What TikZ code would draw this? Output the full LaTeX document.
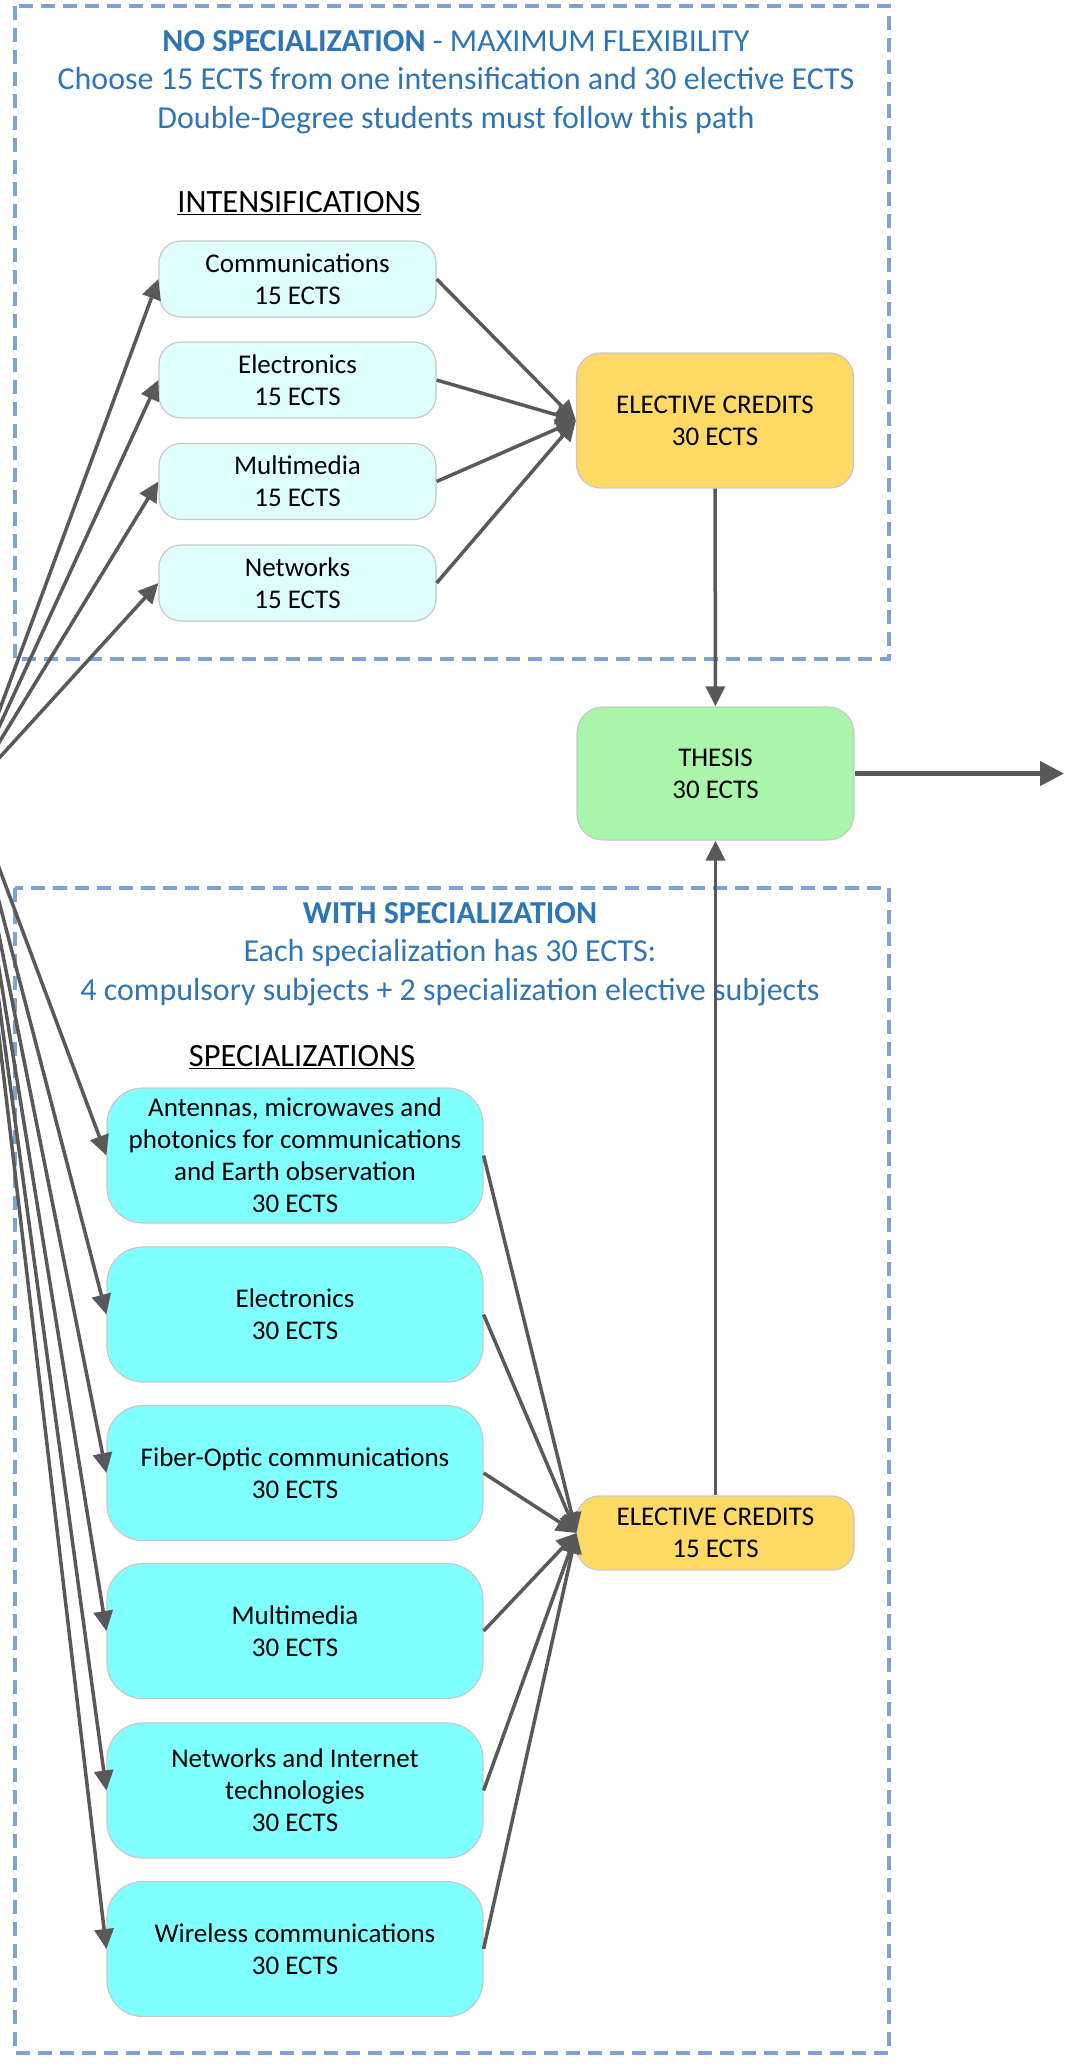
\documentclass[tikz,border=0pt]{standalone}
\usepackage{fontspec}
\setmainfont{Carlito}
\usetikzlibrary{arrows.meta}
\definecolor{cInt}{HTML}{DFFEFE}
\definecolor{cSpe}{HTML}{80FFFF}
\definecolor{cEle}{HTML}{FFD966}
\definecolor{cThe}{HTML}{A9F5A9}
\definecolor{cBlu}{HTML}{2E75B6}
\definecolor{cDas}{HTML}{7DA2D3}
\definecolor{cArr}{HTML}{595959}
\definecolor{cEdg}{HTML}{C8C8C8}

\begin{document}
\begin{tikzpicture}[x=1pt,y=-1pt,
    arr/.style={draw=cArr,line width=3.5pt,-{Triangle[length=20pt,width=19pt]}},
    box/.style={draw=cEdg,line width=1.2pt,align=center,inner sep=0pt,font=\fontsize{27}{32}\selectfont},
    intbox/.style={box,fill=cInt,rounded corners=22pt,minimum width=277pt,minimum height=76pt},
    spebox/.style={box,fill=cSpe,rounded corners=36pt,minimum width=376pt,minimum height=135pt},
    elebox/.style={box,fill=cEle,rounded corners=24pt,minimum width=277pt},
    dashbox/.style={draw=cDas,line width=4pt,dash pattern=on 14pt off 8pt},
    ttl/.style={align=center,text=cBlu,font=\fontsize{32}{38.5}\selectfont},
    hdr/.style={font=\fontsize{32.5}{38}\selectfont}]
  \useasboundingbox (0,0) rectangle (1066,2067);
  \clip (0,0) rectangle (1066,2067);
  \coordinate (src) at (-30,790);

  % the two paths
  \draw[dashbox] (15,6) rectangle (889,659);
  \draw[dashbox] (15,888) rectangle (889,2053);
  \node[ttl] (top) at (456,82) {\textbf{NO SPECIALIZATION} - MAXIMUM FLEXIBILITY\\
    Choose 15 ECTS from one intensification and 30 elective ECTS\\
    Double-Degree students must follow this path};
  \node[ttl] (bot) at (450,954) {\textbf{WITH SPECIALIZATION}\\
    Each specialization has 30 ECTS:\\
    4 compulsory subjects + 2 specialization elective subjects};
  \node[hdr] (hInt) at (299,203) {\underline{INTENSIFICATIONS}};
  \node[hdr] (hSpe) at (302,1057) {\underline{SPECIALIZATIONS}};

  \node[elebox,minimum height=135pt] (ele30) at (715,420.5) {ELECTIVE CREDITS\\30 ECTS};
  \node[elebox,minimum height=74pt,rounded corners=22pt] (ele15) at (715.5,1533) {ELECTIVE CREDITS\\15 ECTS};
  \node[box,fill=cThe,rounded corners=26pt,minimum width=277pt,minimum height=133pt] (the) at (715.5,773.5) {THESIS\\30 ECTS};
  \coordinate (out) at (1064,773.5);

  \foreach \n/\y/\t in {i1/279/Communications, i2/380/Electronics, i3/481.5/Multimedia, i4/583/Networks}{
    \node[intbox] (\n) at (297.5,\y) {\t\\15 ECTS};
    \draw[arr] (src) -- (\n.west);
    \draw[arr] (\n.east) -- (ele30.west);
  }
  \foreach \n/\y/\t in {s1/1155.5/{Antennas, microwaves and\\photonics for communications\\and Earth observation},
                        s2/1314.5/Electronics, s3/1473/Fiber-Optic communications, s4/1631/Multimedia,
                        s5/1790.5/{Networks and Internet\\technologies}, s6/1949/Wireless communications}{
    \node[spebox] (\n) at (295,\y) {\t\\30 ECTS};
    \draw[arr] (src) -- (\n.west);
    \draw[arr] (\n.east) -- (ele15.west);
  }

  \draw[arr] (ele30) -- (the);
  \draw[arr] (ele15) -- (the);
  \draw[arr,line width=4.5pt,-{Triangle[length=24pt,width=24pt]}] (the) -- (out);
\end{tikzpicture}
\end{document}
